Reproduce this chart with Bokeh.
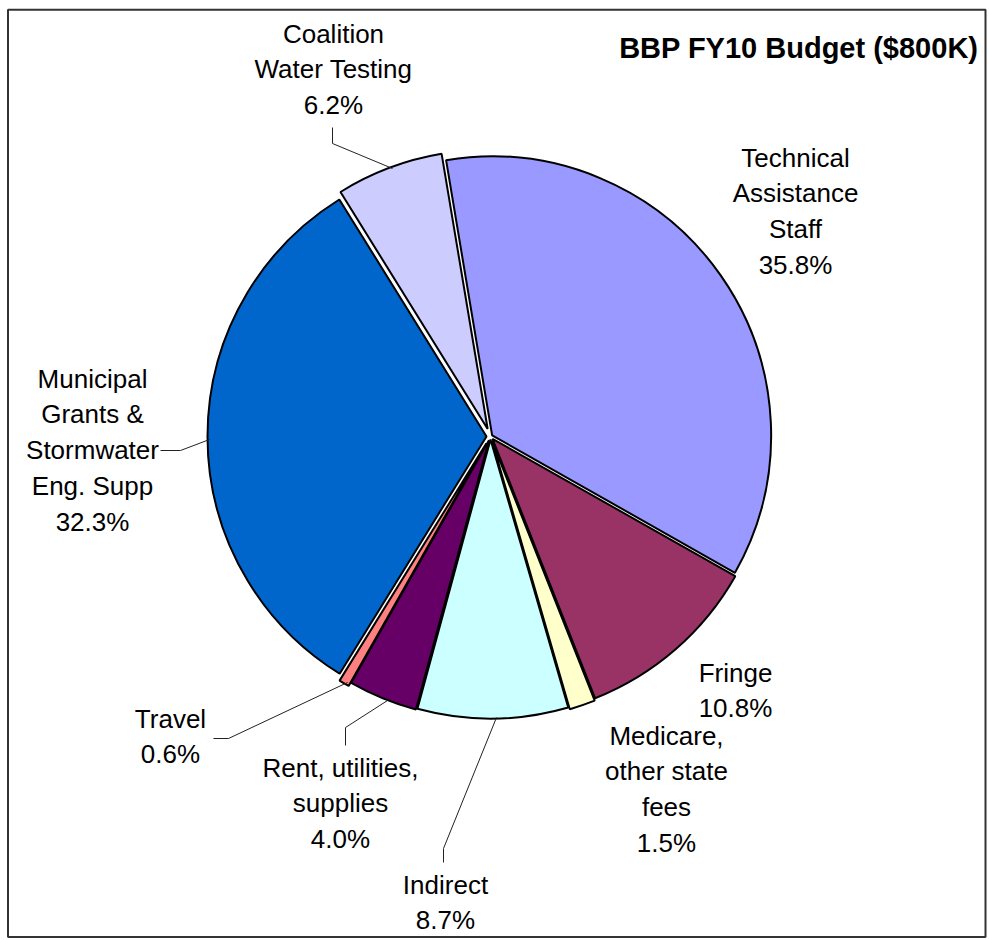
import math
from bokeh.plotting import figure
from bokeh.models import Range1d, ColumnDataSource
from bokeh.core.properties import value
from bokeh.embed import file_html
from bokeh.resources import INLINE

# ---------------- data ----------------
categories = [
    "Technical Assistance Staff",
    "Fringe",
    "Medicare, other state fees",
    "Indirect",
    "Rent, utilities, supplies",
    "Travel",
    "Municipal Grants & Stormwater Eng. Supp",
    "Coalition Water Testing",
]
label_lines = [
    ["Technical", "Assistance", "Staff"],
    ["Fringe"],
    ["Medicare,", "other state", "fees"],
    ["Indirect"],
    ["Rent, utilities,", "supplies"],
    ["Travel"],
    ["Municipal", "Grants &", "Stormwater", "Eng. Supp"],
    ["Coalition", "Water Testing"],
]
shares = [35.8, 10.8, 1.5, 8.7, 4.0, 0.6, 32.3, 6.2]
colors = ["#9999FF", "#993366", "#FFFFCC", "#CCFFFF", "#660066", "#FF8080", "#0066CC", "#CCCCFF"]
title = "BBP FY10 Budget ($800K)"

# ---------------- layout (pixels, y downward) ----------------
W, H = 989, 938
CX, CY, R = 490, 436, 279
START = -9.5            # degrees clockwise from 12 o'clock
explode = [2, 3, 5, 3, 4, 8, 4, 8]
label_pos = [(795, 157), (735, 672), (666, 735), (445, 884),
             (340, 767), (170, 718), (92, 378), (333, 33)]
LINE_H = 35.8
leaders = [
    None,
    None,
    None,
    [(443, 862), (443, 848), (496, 717)],
    [(345, 745), (345, 727), (387, 700)],
    [(213, 738), (228, 738), (347, 682)],
    [(160, 450), (180, 450), (209, 439)],
    [(332, 127), (332, 143), (392, 168)],
]
FONT = value("Liberation Sans")

def Y(py):
    return H - py

total = sum(shares)
xs, ys, sa, ea = [], [], [], []
t = START
for s, e in zip(shares, explode):
    t0 = t
    t1 = t + 360.0 * s / total
    mid = math.radians((t0 + t1) / 2)
    xs.append(CX + e * math.sin(mid))
    ys.append(Y(CY - e * math.cos(mid)))
    sa.append(math.radians(90 - t1))
    ea.append(math.radians(90 - t0))
    t = t1

src = ColumnDataSource(dict(x=xs, y=ys, start=sa, end=ea, color=colors, name=categories, share=shares))

p = figure(width=W, height=H, x_range=Range1d(0, W), y_range=Range1d(0, H),
           output_backend="svg", toolbar_location=None, min_border=0,
           x_axis_type=None, y_axis_type=None)
p.grid.visible = False
p.outline_line_color = None
p.background_fill_color = "white"
p.border_fill_color = "white"

p.wedge(x="x", y="y", radius=R, start_angle="start", end_angle="end",
        direction="anticlock", fill_color="color", line_color="black",
        line_width=2, source=src)

for pts in leaders:
    if pts:
        p.line([q[0] for q in pts], [Y(q[1]) for q in pts], line_color="#222222", line_width=1)

tx, ty, tt = [], [], []
for lines, s, (lx, ly) in zip(label_lines, shares, label_pos):
    allines = lines + [f"{s:.1f}%"]
    for i, ln in enumerate(allines):
        tx.append(lx)
        ty.append(Y(ly + i * LINE_H))
        tt.append(ln)
p.text(x=tx, y=ty, text=tt, text_font=FONT, text_font_size="26px",
       text_align="center", text_baseline="middle", text_color="black")

p.text(x=[978], y=[Y(47)], text=[title], text_font=FONT, text_font_size="29px",
       text_font_style="bold", text_align="right", text_baseline="middle", text_color="black")

p.quad(left=[7.5], right=[985], bottom=[Y(936.5)], top=[Y(9.3)], fill_color=None,
       line_color="#333333", line_width=2)

open("out.html", "w").write(file_html(p, INLINE))
